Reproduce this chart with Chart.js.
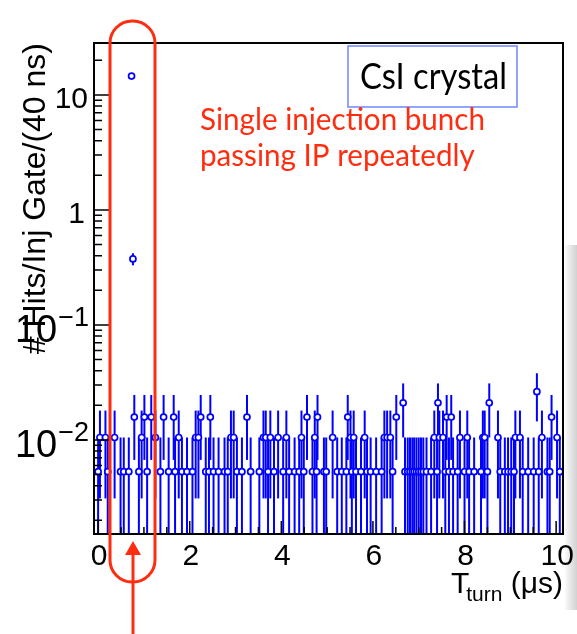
<!DOCTYPE html>
<html>
<head>
<meta charset="utf-8">
<script src="https://cdn.jsdelivr.net/npm/chart.js@4/dist/chart.umd.min.js"></script>
<style>
  html, body { margin: 0; padding: 0; background: #fff; }
  #wrap { position: relative; width: 577px; height: 634px; }
  #shade {
    position: absolute; right: 0; top: 245px; width: 12px; height: 365px;
    background: linear-gradient(to right, rgba(0,0,0,0.02), rgba(0,0,0,0.18));
  }
</style>
</head>
<body>
<div id="wrap">
  <canvas id="myChart" width="577" height="634"></canvas>
  <div id="shade"></div>
</div>
<script>
// bin positions (T_turn, us) grouped by number of hits in the 40 ns bin
const hits1X = [0.00, 0.21, 0.49, 0.56, 0.67, 0.89, 1.07, 1.36, 1.54,
  1.68, 1.83, 1.94, 2.06, 2.35, 2.42, 2.52, 2.63, 2.76, 2.83, 3.03, 3.14, 3.33,
  3.52, 3.71, 3.84, 4.04, 4.17, 4.29, 4.39, 4.49, 4.68, 4.77, 4.93, 4.98,
  5.22, 5.32, 5.42, 5.54, 5.63, 5.74, 5.87, 5.95, 6.07, 6.19, 6.43, 6.70,
  6.76, 6.81, 6.86, 6.90, 6.95, 7.00, 7.05, 7.10, 7.17, 7.27, 7.40, 7.58,
  7.66, 7.75, 7.85, 8.00, 8.10, 8.21, 8.36,
  8.50, 8.78, 8.88, 8.95, 9.02, 9.08, 9.27, 9.39, 9.51, 9.62, 9.81, 9.86, 10.08];
const hits2X = [0.04, 0.16, 0.36, 0.95, 1.25, 1.76, 2.13, 2.19, 2.90, 2.96,
  3.61, 3.66, 3.76, 3.93, 4.11, 4.44, 4.73, 5.12, 5.51, 5.58, 5.82, 6.25,
  6.31, 6.38, 7.34, 7.45, 7.53, 7.90, 8.06, 8.40, 8.44, 8.73, 9.11, 9.21,
  9.69, 10.02];
const hits3X = [0.79, 1.01, 1.16, 1.43, 1.65, 2.24, 2.45, 3.25, 4.56, 4.79,
  5.45, 6.51, 7.61, 7.71, 9.90];
const hits4X = [6.66, 7.42, 8.54];
const hits5X = [9.58];

// hits per injection gate for 1..5 hits, with the error bar ends
const levelY = [0.0053, 0.0105, 0.0158, 0.021, 0.0263];
const levelLo = [0, 0.0031, 0.0067, 0.0105, 0.0145];
const levelHi = [0.0105, 0.018, 0.0246, 0.031, 0.038];

// first turns of the injected bunch
const peakX = [0.73, 0.76];
const peakY = [14.6, 0.375];
const peakLo = [14.3, 0.33];
const peakHi = [14.9, 0.42];

// axis ticks
const xMajor = [0, 2, 4, 6, 8, 10];
const xMinor = [0.5, 1, 1.5, 2.5, 3, 3.5, 4.5, 5, 5.5, 6.5, 7, 7.5, 8.5, 9, 9.5];
const yMajor = [0.01, 0.1, 1, 10];
const yMajorText = [["10", "\u22122"], ["10", "\u22121"], ["1", ""], ["10", ""]];
const yMinor = [0.002, 0.003, 0.004, 0.005, 0.006, 0.007, 0.008, 0.009,
  0.02, 0.03, 0.04, 0.05, 0.06, 0.07, 0.08, 0.09,
  0.2, 0.3, 0.4, 0.5, 0.6, 0.7, 0.8, 0.9,
  2, 3, 4, 5, 6, 7, 8, 9, 20];

const BLUE = "#0000ff";
const RED = "rgb(255,45,15)";
const FONT = '"Liberation Sans", Arial, sans-serif';

const groups = [hits1X, hits2X, hits3X, hits4X, hits5X];
const points = [];
groups.forEach((xs, i) => {
  xs.forEach((x) => {
    points.push({ x: x, y: levelY[i], lo: levelLo[i], hi: levelHi[i] });
  });
});
peakX.forEach((x, i) => {
  points.push({ x: x, y: peakY[i], lo: peakLo[i], hi: peakHi[i] });
});

// vertical error bars, drawn under the open markers
const errorBars = {
  id: "errorBars",
  beforeDatasetsDraw(chart) {
    const ctx = chart.ctx;
    const xs = chart.scales.x;
    const ys = chart.scales.y;
    const area = chart.chartArea;
    ctx.save();
    ctx.beginPath();
    ctx.rect(area.left, area.top, area.right - area.left, area.bottom - area.top);
    ctx.clip();
    ctx.strokeStyle = BLUE;
    ctx.lineWidth = 2;
    chart.data.datasets[0].data.forEach((p) => {
      const px = xs.getPixelForValue(p.x);
      const top = ys.getPixelForValue(p.hi);
      const bot = p.lo > ys.min ? ys.getPixelForValue(p.lo) : area.bottom;
      ctx.beginPath();
      ctx.moveTo(px, top);
      ctx.lineTo(px, bot);
      ctx.stroke();
    });
    ctx.restore();
  },
};

function fitText(ctx, text, x, y, width, font) {
  ctx.font = font;
  const w = ctx.measureText(text).width;
  ctx.save();
  ctx.translate(x, y);
  ctx.scale(width / w, 1);
  ctx.textAlign = "left";
  ctx.fillText(text, 0, 0);
  ctx.restore();
  return width / w;
}

// frame, inward ticks, labels and the slide annotations
const frame = {
  id: "frame",
  afterDraw(chart) {
    const ctx = chart.ctx;
    const xs = chart.scales.x;
    const ys = chart.scales.y;
    const a = chart.chartArea;
    ctx.save();
    ctx.strokeStyle = "#000";
    ctx.lineWidth = 2;
    ctx.strokeRect(a.left, a.top, a.right - a.left, a.bottom - a.top);

    ctx.lineWidth = 1.5;
    ctx.beginPath();
    xMajor.forEach((v) => {
      const px = xs.getPixelForValue(v);
      ctx.moveTo(px, a.bottom);
      ctx.lineTo(px, a.bottom - 13);
    });
    xMinor.forEach((v) => {
      const px = xs.getPixelForValue(v);
      ctx.moveTo(px, a.bottom);
      ctx.lineTo(px, a.bottom - 7);
    });
    yMajor.forEach((v) => {
      const py = ys.getPixelForValue(v);
      ctx.moveTo(a.left, py);
      ctx.lineTo(a.left + 15, py);
    });
    yMinor.forEach((v) => {
      const py = ys.getPixelForValue(v);
      ctx.moveTo(a.left, py);
      ctx.lineTo(a.left + 8, py);
    });
    ctx.stroke();

    // tick labels
    ctx.fillStyle = "#000";
    ctx.textBaseline = "alphabetic";
    ctx.font = "30px " + FONT;
    ctx.textAlign = "center";
    xMajor.forEach((v) => {
      ctx.fillText(String(v), xs.getPixelForValue(v) + 1, a.bottom + 31);
    });
    yMajor.forEach((v, i) => {
      const py = ys.getPixelForValue(v);
      const base = yMajorText[i][0];
      const sup = yMajorText[i][1];
      ctx.textAlign = "right";
      if (sup) {
        ctx.font = "27px " + FONT;
        const sw = ctx.measureText(sup).width;
        ctx.fillText(sup, 89, py + 1);
        ctx.font = "38px " + FONT;
        ctx.fillText(base, 89 - sw - 1, py + 17);
      } else {
        ctx.font = "30px " + FONT;
        ctx.fillText(base, v === 1 ? 85 : 88, py + 13);
      }
    });

    // axis titles
    ctx.textAlign = "left";
    ctx.font = "30px " + FONT;
    const tW = ctx.measureText("T").width;
    ctx.font = "21px " + FONT;
    const subW = ctx.measureText("turn").width;
    ctx.font = "30px " + FONT;
    const tailW = ctx.measureText(" (\u03bcs)").width;
    let x0 = a.right - (tW - 3 + subW + tailW);
    ctx.fillText("T", x0, 593);
    ctx.font = "21px " + FONT;
    ctx.fillText("turn", x0 + tW - 3, 601);
    ctx.font = "30px " + FONT;
    ctx.fillText(" (\u03bcs)", x0 + tW - 3 + subW, 593);

    ctx.save();
    ctx.translate(45, a.top);
    ctx.rotate(-Math.PI / 2);
    ctx.textAlign = "right";
    ctx.font = "32px " + FONT;
    ctx.fillText("# Hits/Inj Gate/(40 ns)", 0, 0);
    ctx.restore();

    // label box
    ctx.fillStyle = "#fff";
    ctx.fillRect(348, 46, 169, 61);
    ctx.strokeStyle = "#6f86ff";
    ctx.lineWidth = 1.5;
    ctx.strokeRect(348, 46, 169, 61);
    ctx.fillStyle = "#000";
    fitText(ctx, "CsI crystal", 360, 89, 147, '37px Lato, "Open Sans", sans-serif');

    // red annotation
    ctx.fillStyle = RED;
    const f = '31px Lato, "Open Sans", sans-serif';
    const k = fitText(ctx, "Single injection bunch", 200, 130, 285, f);
    ctx.font = f;
    const w2 = ctx.measureText("passing IP repeatedly").width * k;
    fitText(ctx, "passing IP repeatedly", 200, 166, w2, f);

    ctx.strokeStyle = RED;
    ctx.lineWidth = 3;
    ctx.beginPath();
    ctx.roundRect(110, 21, 45, 561, 22);
    ctx.stroke();

    ctx.beginPath();
    ctx.moveTo(133, 634);
    ctx.lineTo(133, 552);
    ctx.stroke();
    ctx.beginPath();
    ctx.moveTo(133, 541);
    ctx.lineTo(125, 555);
    ctx.lineTo(141, 555);
    ctx.closePath();
    ctx.fill();
    ctx.restore();
  },
};

new Chart(document.getElementById("myChart"), {
  type: "scatter",
  data: {
    datasets: [
      {
        data: points,
        pointRadius: 3,
        pointBorderWidth: 1.7,
        pointBackgroundColor: "#fff",
        pointBorderColor: BLUE,
        showLine: false,
      },
    ],
  },
  options: {
    responsive: false,
    devicePixelRatio: 1,
    animation: false,
    events: [],
    layout: { padding: { left: 94, right: 14, top: 43, bottom: 100 } },
    plugins: { legend: { display: false }, tooltip: { enabled: false } },
    scales: {
      x: { type: "linear", min: -0.09, max: 10.15, display: false },
      y: { type: "logarithmic", min: 0.00152, max: 28.3, display: false },
    },
  },
  plugins: [errorBars, frame],
});
</script>
</body>
</html>
